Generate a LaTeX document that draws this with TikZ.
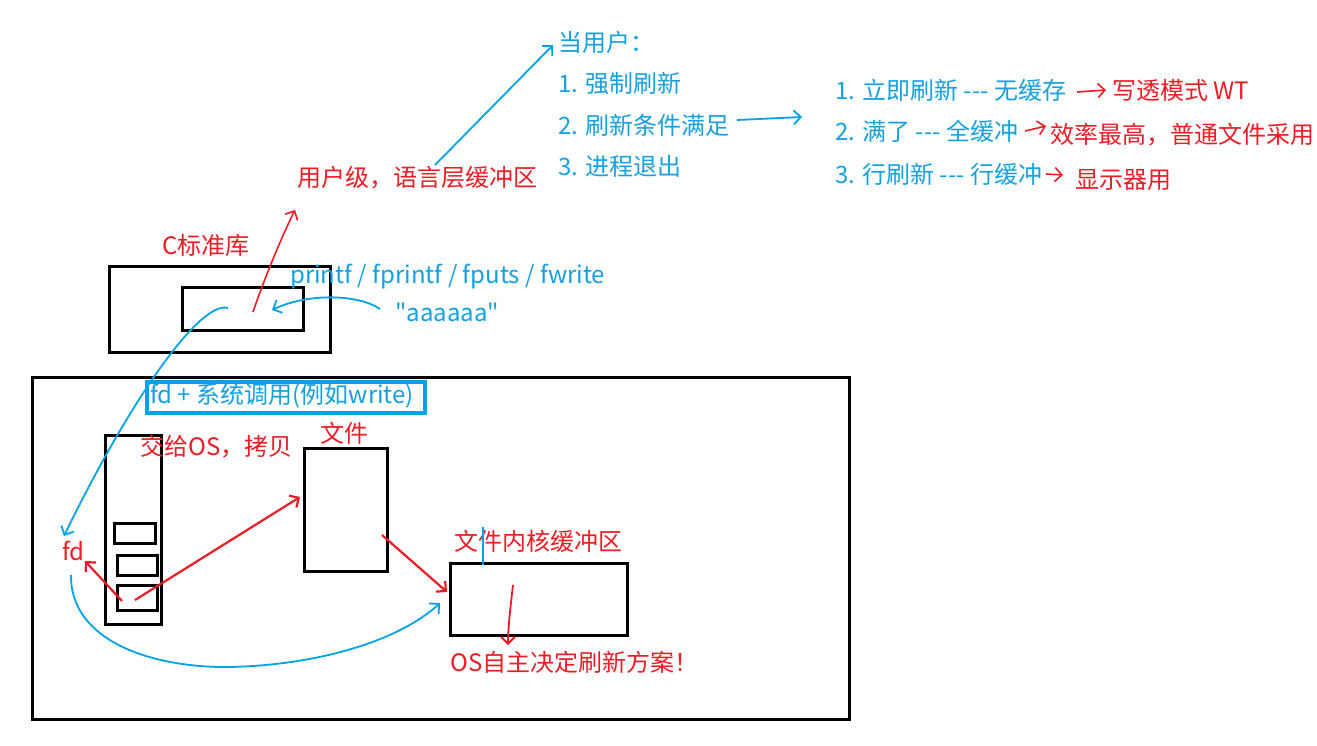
\documentclass[tikz,border=0pt]{standalone}
\usepackage{fontspec}
\setmainfont{Noto Sans CJK SC}[Ligatures=TeXOff]
\usetikzlibrary{arrows.meta}
\definecolor{pred}{RGB}{237,28,36}
\definecolor{pblue}{RGB}{0,162,232}
\definecolor{tblue}{RGB}{20,160,225}
\tikzset{
  txt/.style={inner sep=0pt, anchor=west, font=\fontsize{24}{28}\selectfont},
  rtxt/.style={txt, text=pred},
  btxt/.style={txt, text=tblue},
  box/.style={draw=black, line width=3pt},
  rarr/.style={draw=pred, line width=2.2pt, -{Straight Barb[length=7pt,width=14pt]}},
  barr/.style={draw=pblue, line width=1.8pt, -{Straight Barb[length=7pt,width=14pt]}},
}
\begin{document}
\begin{tikzpicture}[x=1pt,y=-1pt]
\useasboundingbox (0,0) rectangle (1317,745);
% top lists
\node[btxt] (q0) at (558,42) {当用户：};
\node[btxt] (q1) at (558,83) {1. 强制刷新};
\node[btxt] (q2) at (558,125) {2. 刷新条件满足};
\node[btxt] (q3) at (558,166) {3. 进程退出};
\node[btxt] (m1) at (835,90) {1. 立即刷新 --- 无缓存};
\node[btxt] (m2) at (835,131) {2. 满了 --- 全缓冲};
\node[btxt] (m3) at (835,174) {3. 行刷新 --- 行缓冲};
\node[rtxt] (r1) at (1112,90) {写透模式 WT};
\node[rtxt] (r2) at (1050,135) {效率最高，普通文件采用};
\node[rtxt] (r3) at (1075,180) {显示器用};
\node[rtxt] (ulev) at (297,178) {用户级，语言层缓冲区};
% C library
\node[rtxt] (clib) at (162,245) {C标准库};
\node[box, minimum width=221pt, minimum height=86pt, anchor=north west, inner sep=0pt] (outerC) at (108,265) {};
\node[box, minimum width=121pt, minimum height=43pt, anchor=north west, inner sep=0pt] (innerC) at (181,286) {};
\node[btxt] (funcs) at (290,277) {printf / fprintf / fputs / fwrite};
\node[btxt] (aaa) at (395,312) {"aaaaaa"};
% OS area
\node[box, minimum width=817pt, minimum height=342pt, anchor=north west, inner sep=0pt] (osbox) at (31,376) {};
\node[draw=pblue, line width=3.5pt, anchor=north west, minimum width=278pt, minimum height=31pt, inner sep=0pt] (sysbox) at (145,380) {};
\node[btxt] (sys) at (150,396) {fd + 系统调用(例如write)};
\node[box, minimum width=56pt, minimum height=189pt, anchor=north west, inner sep=0pt] (tab) at (104,434) {};
\node[box, minimum width=41pt, minimum height=20pt, anchor=north west, inner sep=0pt] (s1) at (113,522) {};
\node[box, minimum width=40pt, minimum height=20pt, anchor=north west, inner sep=0pt] (s2) at (116,554) {};
\node[box, minimum width=40pt, minimum height=25pt, anchor=north west, inner sep=0pt] (s3) at (116,584) {};
\node[rtxt] (give) at (140,447) {交给OS，拷贝};
\node[rtxt] (fd) at (62,551) {fd};
\node[rtxt] (filet) at (320,433) {文件};
\node[box, minimum width=83pt, minimum height=123pt, anchor=north west, inner sep=0pt] (file) at (303,447) {};
\node[rtxt] (kbt) at (454,541) {文件内核缓冲区};
\node[box, minimum width=177pt, minimum height=72pt, anchor=north west, inner sep=0pt] (kbuf) at (449,562) {};
\node[rtxt] (osd) at (450,662) {OS自主决定刷新方案！};
% coordinates
\coordinate (a1s) at (435,165); \coordinate (a1e) at (553,45);
\coordinate (a2s) at (737,120); \coordinate (a2e) at (802,117);
\coordinate (b1s) at (1077,92); \coordinate (b1e) at (1106,90);
\coordinate (b2s) at (1025,131); \coordinate (b2e) at (1046,126);
\coordinate (b3s) at (1046,174); \coordinate (b3e) at (1063,175);
\coordinate (u1s) at (253,312); \coordinate (u1e) at (295,210);
\coordinate (c1s) at (380,309); \coordinate (c1e) at (272,310);
\coordinate (c2s) at (228,308); \coordinate (c2e) at (64,536);
\coordinate (f1s) at (122,601); \coordinate (f1e) at (85,561);
\coordinate (f2s) at (135,600); \coordinate (f2e) at (300,497);
\coordinate (f3s) at (382,535); \coordinate (f3e) at (447,592);
\coordinate (f4s) at (513,585); \coordinate (f4e) at (508,645);
\coordinate (g1s) at (71,575); \coordinate (g1m) at (230,667); \coordinate (g1e) at (440,603);
\coordinate (t1) at (483,527); \coordinate (t2) at (483,565);
% connectors
\draw[barr] (a1s) -- (a1e);
\draw[barr] (a2s) -- (a2e);
\draw[rarr, line width=1.6pt] (b1s) -- (b1e);
\draw[rarr, line width=1.6pt] (b2s) -- (b2e);
\draw[rarr, line width=1.6pt] (b3s) -- (b3e);
\draw[rarr, line width=1.6pt] (u1s) .. controls (262,285) and (280,240) .. (u1e);
\draw[barr] (c1s) .. controls (360,295) and (310,292) .. (c1e);
\draw[barr] (c2s) .. controls (200,300) and (130,400) .. (c2e);
\draw[rarr] (f1s) -- (f1e);
\draw[rarr] (f2s) -- (f2e);
\draw[rarr] (f3s) -- (f3e);
\draw[rarr, line width=1.8pt] (f4s) .. controls (510,610) and (508,630) .. (f4e);
\draw[barr] (g1s) .. controls (70,640) and (150,668) .. (g1m) .. controls (320,665) and (400,640) .. (g1e);
\draw[draw=pblue, line width=1.5pt] (t1) -- (t2);
\end{tikzpicture}
\end{document}
